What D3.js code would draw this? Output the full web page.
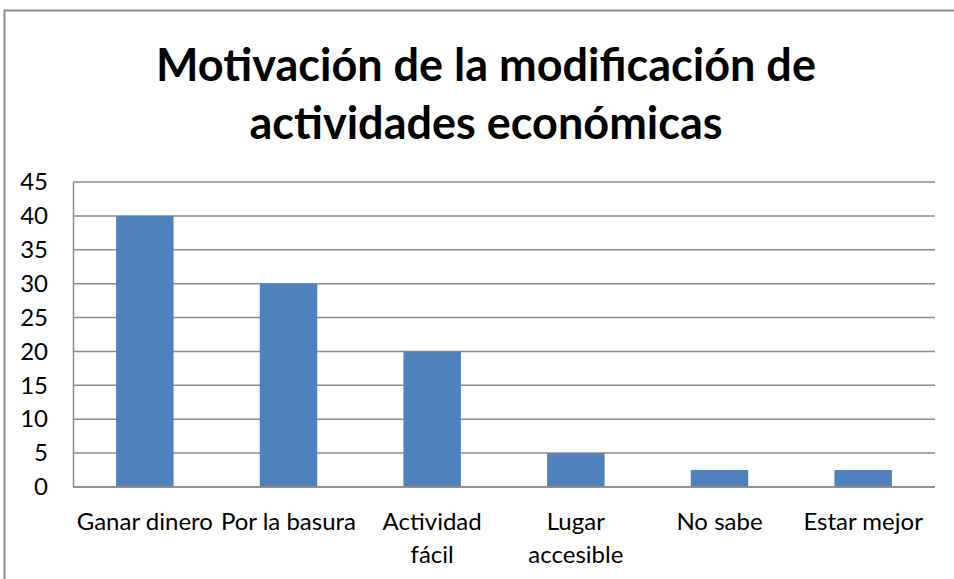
<!DOCTYPE html>
<html>
<head>
<meta charset="utf-8">
<script src="https://cdn.jsdelivr.net/npm/d3@7"></script>
<style>
  html, body { margin: 0; padding: 0; background: #fff; }
  svg { display: block; }
  text { font-family: Lato, "Open Sans", sans-serif; fill: #000; }
</style>
</head>
<body>
<svg id="chart" width="954" height="579"></svg>
<script>
const categories = ["Ganar dinero", "Por la basura", "Actividad fácil", "Lugar accesible", "No sabe", "Estar mejor"];
const values = [40, 30, 20, 5, 2.5, 2.5];
const yTicks = [0, 5, 10, 15, 20, 25, 30, 35, 40, 45];
const titleLines = ["Motivación de la modificación de", "actividades económicas"];

const svg = d3.select("#chart");
const W = 954, H = 579;
const plot = { left: 73, right: 935, top: 182, bottom: 487 };

// outer chart frame
svg.append("rect")
  .attr("x", 4.5).attr("y", 10.5)
  .attr("width", W + 10).attr("height", H + 10)
  .attr("fill", "#fff").attr("stroke", "#8c8c8c").attr("stroke-width", 2);

// title
svg.append("g").selectAll("text").data(titleLines).join("text")
  .attr("x", 486).attr("y", (d, i) => 81 + i * 58)
  .attr("text-anchor", "middle")
  .attr("font-size", 45).attr("font-weight", "bold")
  .text(d => d);

const x = d3.scaleBand().domain(categories).range([plot.left, plot.right]).paddingInner(0.6).paddingOuter(0.3);
const y = d3.scaleLinear().domain([0, 45]).range([plot.bottom, plot.top]);

// gridlines
svg.append("g").selectAll("line").data(yTicks).join("line")
  .attr("x1", plot.left).attr("x2", plot.right)
  .attr("y1", d => y(d)).attr("y2", d => y(d))
  .attr("stroke", "#8c8c8c").attr("stroke-width", 1.5);

// y axis
const yAxis = svg.append("g").attr("transform", `translate(${plot.left},0)`)
  .call(d3.axisLeft(y).tickValues(yTicks).tickSize(0).tickPadding(25));
yAxis.select(".domain").attr("stroke", "#8c8c8c").attr("stroke-width", 1.5);
yAxis.selectAll("text").attr("font-size", 24).attr("font-family", "Lato, sans-serif").attr("fill", "#000");

// bars
svg.append("g").selectAll("rect").data(values).join("rect")
  .attr("x", (d, i) => x(categories[i]))
  .attr("width", x.bandwidth())
  .attr("y", d => y(d))
  .attr("height", d => y(0) - y(d))
  .attr("fill", "#4f81bd");

// x axis line
svg.append("line")
  .attr("x1", plot.left).attr("x2", plot.right)
  .attr("y1", y(0)).attr("y2", y(0))
  .attr("stroke", "#8c8c8c").attr("stroke-width", 1.5);

// category labels, wrapped when wider than the band step
const step = x.step();
const labels = svg.append("g").selectAll("text").data(categories).join("text")
  .attr("x", d => x(d) + x.bandwidth() / 2)
  .attr("y", 530)
  .attr("text-anchor", "middle")
  .attr("font-size", 24);
labels.each(function(d) {
  const t = d3.select(this);
  t.text(d);
  if (this.getComputedTextLength() > step) {
    const words = d.split(" ");
    t.text(null);
    words.forEach((w, i) => {
      t.append("tspan").attr("x", t.attr("x")).attr("dy", i === 0 ? 0 : 33).text(w);
    });
  }
});
</script>
</body>
</html>
